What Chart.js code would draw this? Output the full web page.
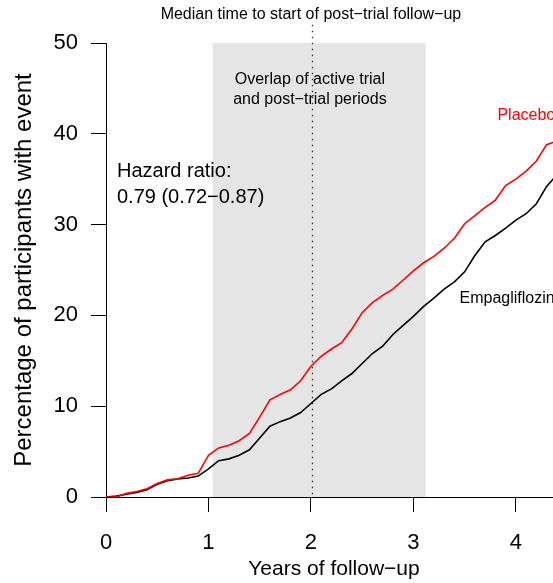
<!DOCTYPE html>
<html>
<head>
<meta charset="utf-8">
<script src="https://cdn.jsdelivr.net/npm/chart.js@4.4.1/dist/chart.umd.min.js"></script>
<style>
  html, body { margin: 0; padding: 0; background: #fff; overflow: hidden; }
  #wrap { width: 600px; height: 583px; }
</style>
</head>
<body>
<div id="wrap"><canvas id="km" width="600" height="583"></canvas></div>
<script>
// years of follow-up and cumulative % with event
const years = [0.0, 0.1, 0.2, 0.3, 0.4, 0.5, 0.6, 0.7, 0.8, 0.9,
  1.0, 1.1, 1.2, 1.3, 1.4, 1.5, 1.6, 1.7, 1.8, 1.9,
  2.0, 2.1, 2.2, 2.3, 2.4, 2.5, 2.6, 2.7, 2.8, 2.9,
  3.0, 3.1, 3.2, 3.3, 3.4, 3.5, 3.6, 3.7, 3.8, 3.9,
  4.0, 4.1, 4.2, 4.3, 4.4];
const placebo = [0.0, 0.0, 0.4, 0.6, 0.9, 1.5, 1.9, 2.0, 2.4, 2.6,
  4.6, 5.4, 5.7, 6.2, 7.0, 8.8, 10.7, 11.3, 11.8, 12.8,
  14.4, 15.5, 16.3, 17.0, 18.5, 20.3, 21.4, 22.2, 22.9, 23.9,
  24.9, 25.8, 26.5, 27.4, 28.5, 30.1, 31.0, 31.9, 32.7, 34.3,
  35.0, 35.9, 37.0, 38.8, 39.2];
const empagliflozin = [0.0, 0.1, 0.3, 0.5, 0.8, 1.4, 1.8, 2.0, 2.1, 2.3,
  3.1, 4.0, 4.2, 4.6, 5.2, 6.5, 7.8, 8.3, 8.7, 9.3,
  10.3, 11.3, 11.9, 12.8, 13.6, 14.7, 15.8, 16.6, 17.9, 18.9,
  19.9, 21.0, 21.9, 22.9, 23.7, 24.8, 26.6, 28.1, 28.8, 29.6,
  30.5, 31.2, 32.3, 34.2, 35.5];
const yTicks = [0, 10, 20, 30, 40, 50];
const xTicks = [0, 1, 2, 3, 4];
const overlapPeriod = [1.04, 3.12];
const medianPostTrial = 2.01;

const FONT = '"Liberation Sans", Arial, Helvetica, sans-serif';

const toXY = (ys) => years.map((x, i) => ({ x: x, y: ys[i] }));

const annotations = {
  id: "annotations",
  beforeDatasetsDraw(chart) {
    const { ctx, scales: { x, y } } = chart;
    ctx.save();
    // overlap shading
    ctx.fillStyle = "#e5e5e5";
    const x0 = x.getPixelForValue(overlapPeriod[0]);
    const x1 = x.getPixelForValue(overlapPeriod[1]);
    ctx.fillRect(x0, y.getPixelForValue(50), x1 - x0, y.getPixelForValue(0) - y.getPixelForValue(50));
    // median time dotted line
    const xm = Math.round(x.getPixelForValue(medianPostTrial)) + 0.5;
    ctx.strokeStyle = "#333";
    ctx.lineWidth = 1.3;
    ctx.setLineDash([1.5, 4.5]);
    ctx.beginPath();
    ctx.moveTo(xm, y.getPixelForValue(52));
    ctx.lineTo(xm, y.getPixelForValue(0));
    ctx.stroke();
    ctx.restore();
  },
  afterDatasetsDraw(chart) {
    const { ctx, scales: { x, y } } = chart;
    ctx.save();
    ctx.textBaseline = "alphabetic";
    ctx.fillStyle = "#000";

    ctx.textAlign = "center";
    ctx.font = "16px " + FONT;
    ctx.fillText("Median time to start of post\u2212trial follow\u2212up", x.getPixelForValue(2.0), y.getPixelForValue(52.6));
    ctx.fillText("Overlap of active trial", x.getPixelForValue(1.99), y.getPixelForValue(45.5));
    ctx.fillText("and post\u2212trial periods", x.getPixelForValue(1.99), y.getPixelForValue(43.3));

    ctx.textAlign = "left";
    ctx.font = "20px " + FONT;
    ctx.fillText("Hazard ratio:", x.getPixelForValue(0.107), y.getPixelForValue(35.2));
    ctx.fillText("0.79 (0.72\u22120.87)", x.getPixelForValue(0.107), y.getPixelForValue(32.4));

    ctx.font = "16px " + FONT;
    ctx.fillStyle = "#ff0000";
    ctx.fillText("Placebo", x.getPixelForValue(3.82), y.getPixelForValue(41.5));
    ctx.fillStyle = "#000";
    ctx.fillText("Empagliflozin", x.getPixelForValue(3.45), y.getPixelForValue(21.4));
    ctx.restore();
  }
};

new Chart(document.getElementById("km"), {
  type: "line",
  data: {
    datasets: [
      {
        label: "Placebo",
        data: toXY(placebo),
        borderColor: "#ff0000",
        borderWidth: 1.6,
        pointRadius: 0,
        tension: 0,
        fill: false
      },
      {
        label: "Empagliflozin",
        data: toXY(empagliflozin),
        borderColor: "#000000",
        borderWidth: 1.6,
        pointRadius: 0,
        tension: 0,
        fill: false
      }
    ]
  },
  options: {
    responsive: false,
    animation: false,
    layout: { padding: { top: 43, right: 38, bottom: 0, left: 0 } },
    plugins: {
      legend: { display: false },
      tooltip: { enabled: false }
    },
    scales: {
      x: {
        type: "linear",
        min: 0,
        max: 4.45,
        afterFit(scale) { scale.height = 86; },
        afterBuildTicks(scale) { scale.ticks = xTicks.map((v) => ({ value: v })); },
        ticks: {
          color: "#000",
          font: { family: FONT, size: 22 },
          padding: 18,
          maxRotation: 0,
          callback: (v) => String(v)
        },
        grid: { drawOnChartArea: false, color: "#000", tickLength: 15 },
        border: { display: true, color: "#000", width: 1 },
        title: {
          display: true,
          text: "Years of follow\u2212up",
          color: "#000",
          font: { family: FONT, size: 21 },
          padding: { top: 0, bottom: 1 }
        }
      },
      y: {
        min: 0,
        max: 50,
        afterFit(scale) { scale.width = 106; },
        afterBuildTicks(scale) { scale.ticks = yTicks.map((v) => ({ value: v })); },
        ticks: {
          color: "#000",
          font: { family: FONT, size: 22 },
          padding: 13,
          callback: (v) => String(v)
        },
        grid: { drawOnChartArea: false, color: "#000", tickLength: 15 },
        border: { display: true, color: "#000", width: 1 },
        title: {
          display: true,
          text: "Percentage of participants with event",
          color: "#000",
          font: { family: FONT, size: 24 },
          padding: { top: 10, bottom: 0 }
        }
      }
    }
  },
  plugins: [annotations]
});
</script>
</body>
</html>
